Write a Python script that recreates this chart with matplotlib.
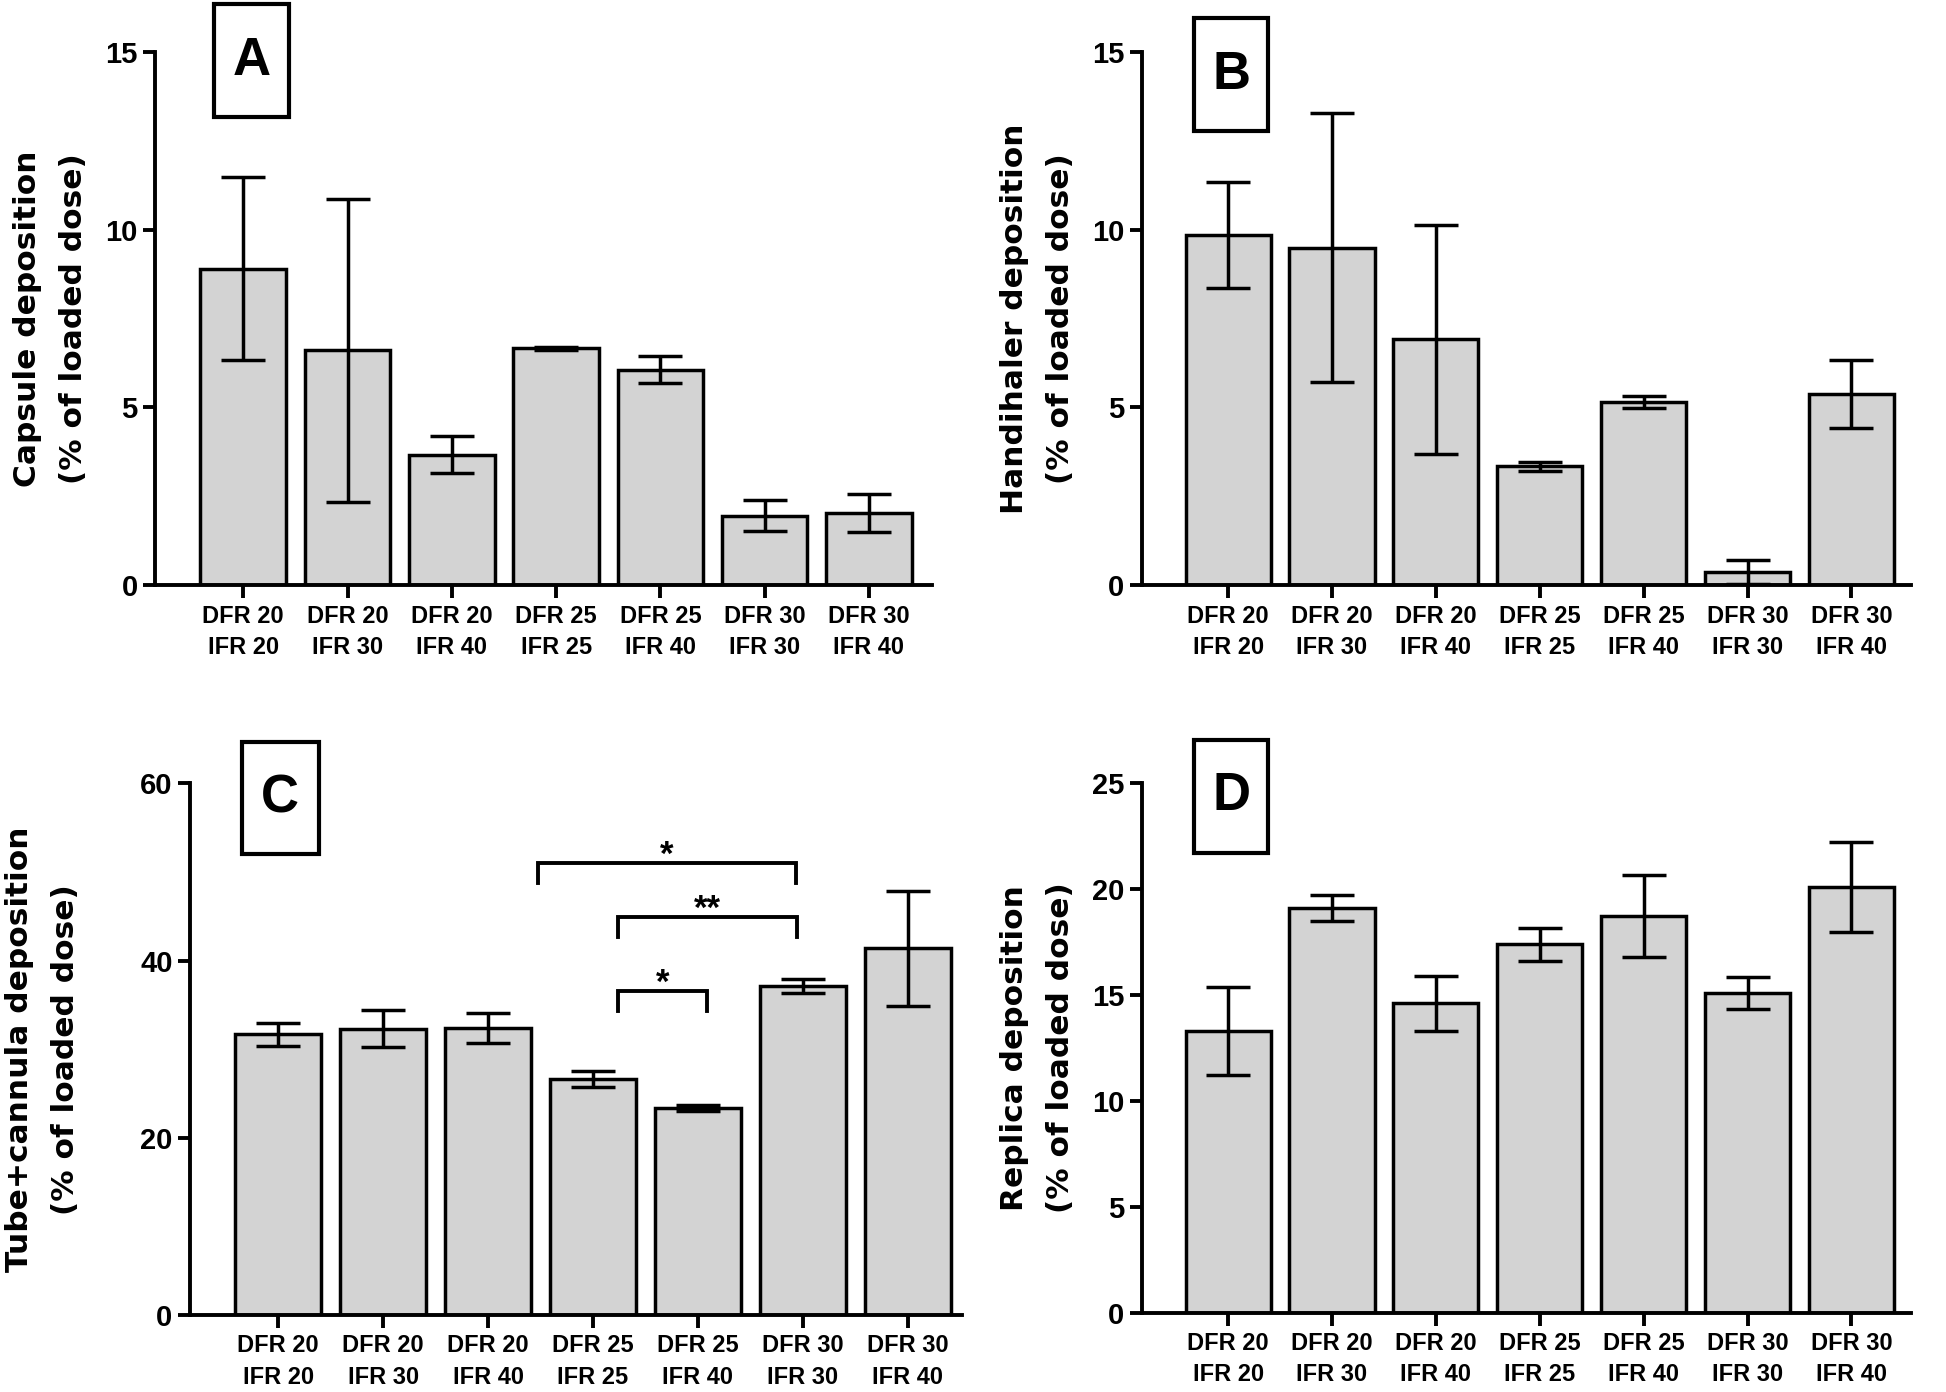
import matplotlib
matplotlib.use("Agg")
import matplotlib.pyplot as plt
from matplotlib.patches import Rectangle

plt.rcParams["font.family"] = ["Liberation Sans", "DejaVu Sans"]
plt.rcParams["font.weight"] = "bold"

# groups on the x axis
groups = ["DFR 20\nIFR 20", "DFR 20\nIFR 30", "DFR 20\nIFR 40", "DFR 25\nIFR 25",
          "DFR 25\nIFR 40", "DFR 30\nIFR 30", "DFR 30\nIFR 40"]

# mean and SD
capsule_mean = [8.9, 6.6, 3.67, 6.66, 6.06, 1.95, 2.03]
capsule_sd = [2.57, 4.25, 0.51, 0.04, 0.38, 0.44, 0.54]
handihaler_mean = [9.85, 9.49, 6.92, 3.34, 5.15, 0.37, 5.37]
handihaler_sd = [1.5, 3.78, 3.22, 0.12, 0.16, 0.33, 0.95]
tube_mean = [31.7, 32.3, 32.4, 26.6, 23.4, 37.1, 41.4]
tube_sd = [1.3, 2.1, 1.7, 0.9, 0.35, 0.8, 6.5]
replica_mean = [13.28, 19.09, 14.59, 17.38, 18.73, 15.07, 20.07]
replica_sd = [2.08, 0.62, 1.3, 0.78, 1.93, 0.76, 2.13]

# significance brackets in panel C: (x start, x end, y, text)
sig_brackets = [(2.48, 4.93, 51.0, "*"), (3.24, 4.94, 44.9, "**"), (3.24, 4.09, 36.6, "*")]

lw = 2.5

fig = plt.figure(figsize=(19.46, 13.92), dpi=100)

panels = [
    # rect, mean, sd, ymax, yticks, ylabel, letter, xlim, label x, box rect (axes coords)
    ([0.0797, 0.5797, 0.399, 0.383], capsule_mean, capsule_sd, 15, [0, 5, 10, 15],
     "Capsule deposition\n(% of loaded dose)", "A", (-0.845, 6.6), -0.086, (0.076, 0.878, 0.097, 0.211)),
    ([0.5868, 0.5797, 0.395, 0.383], handihaler_mean, handihaler_sd, 15, [0, 5, 10, 15],
     "Handihaler deposition\n(% of loaded dose)", "B", (-0.83, 6.57), -0.087, (0.068, 0.852, 0.096, 0.211)),
    ([0.0976, 0.0553, 0.397, 0.382], tube_mean, tube_sd, 60, [0, 20, 40, 60],
     "Tube+cannula deposition\n(% of loaded dose)", "C", (-0.84, 6.52), -0.142, (0.067, 0.867, 0.1, 0.21)),
    ([0.5868, 0.0568, 0.395, 0.381], replica_mean, replica_sd, 25, [0, 5, 10, 15, 20, 25],
     "Replica deposition\n(% of loaded dose)", "D", (-0.83, 6.57), -0.087, (0.068, 0.868, 0.096, 0.212)),
]

for rect, mean, sd, ymax, yticks, ylabel, letter, xlim, labx, box in panels:
    ax = fig.add_axes(rect)
    x = list(range(len(groups)))
    ax.bar(x, mean, width=0.82, color="#d3d3d3", edgecolor="black", linewidth=lw, zorder=2)
    ax.errorbar(x, mean, yerr=sd, fmt="none", ecolor="black", elinewidth=lw,
                capsize=16, capthick=lw, zorder=3)
    ax.set_xlim(*xlim)
    ax.set_ylim(0, ymax)
    ax.set_yticks(yticks)
    ax.set_xticks(x)
    ax.set_xticklabels(groups, fontweight="bold", fontsize=17, linespacing=1.45)
    ax.set_yticklabels([str(t) for t in yticks], fontweight="bold", fontsize=21)
    ax.tick_params(axis="x", length=9, width=2.8, pad=5)
    ax.tick_params(axis="y", length=8.5, width=2.8, pad=4)
    for s in ["top", "right"]:
        ax.spines[s].set_visible(False)
    for s in ["left", "bottom"]:
        ax.spines[s].set_linewidth(2.8)
    ax.set_ylabel(ylabel, fontsize=22.5, fontweight="bold", family="DejaVu Sans",
                  linespacing=1.75)
    ax.yaxis.set_label_coords(labx, 0.5)
    bx, by, bw, bh = box
    ax.add_patch(Rectangle((bx, by), bw, bh, transform=ax.transAxes, fill=False,
                           edgecolor="black", linewidth=3, clip_on=False))
    ax.text(bx + bw / 2, by + bh / 2, letter, transform=ax.transAxes, ha="center",
            va="center", fontsize=38, fontweight="bold")
    if letter == "C":
        for x0, x1, y, t in sig_brackets:
            drop = 2.3
            ax.plot([x0, x0, x1, x1], [y - drop, y, y, y - drop], color="black",
                    linewidth=2.8, solid_joinstyle="miter", zorder=4)
            ax.text((x0 + x1) / 2, y - 0.2, t, ha="center", va="baseline", fontsize=25,
                    fontweight="bold")

fig.savefig("out.png", dpi=100)
